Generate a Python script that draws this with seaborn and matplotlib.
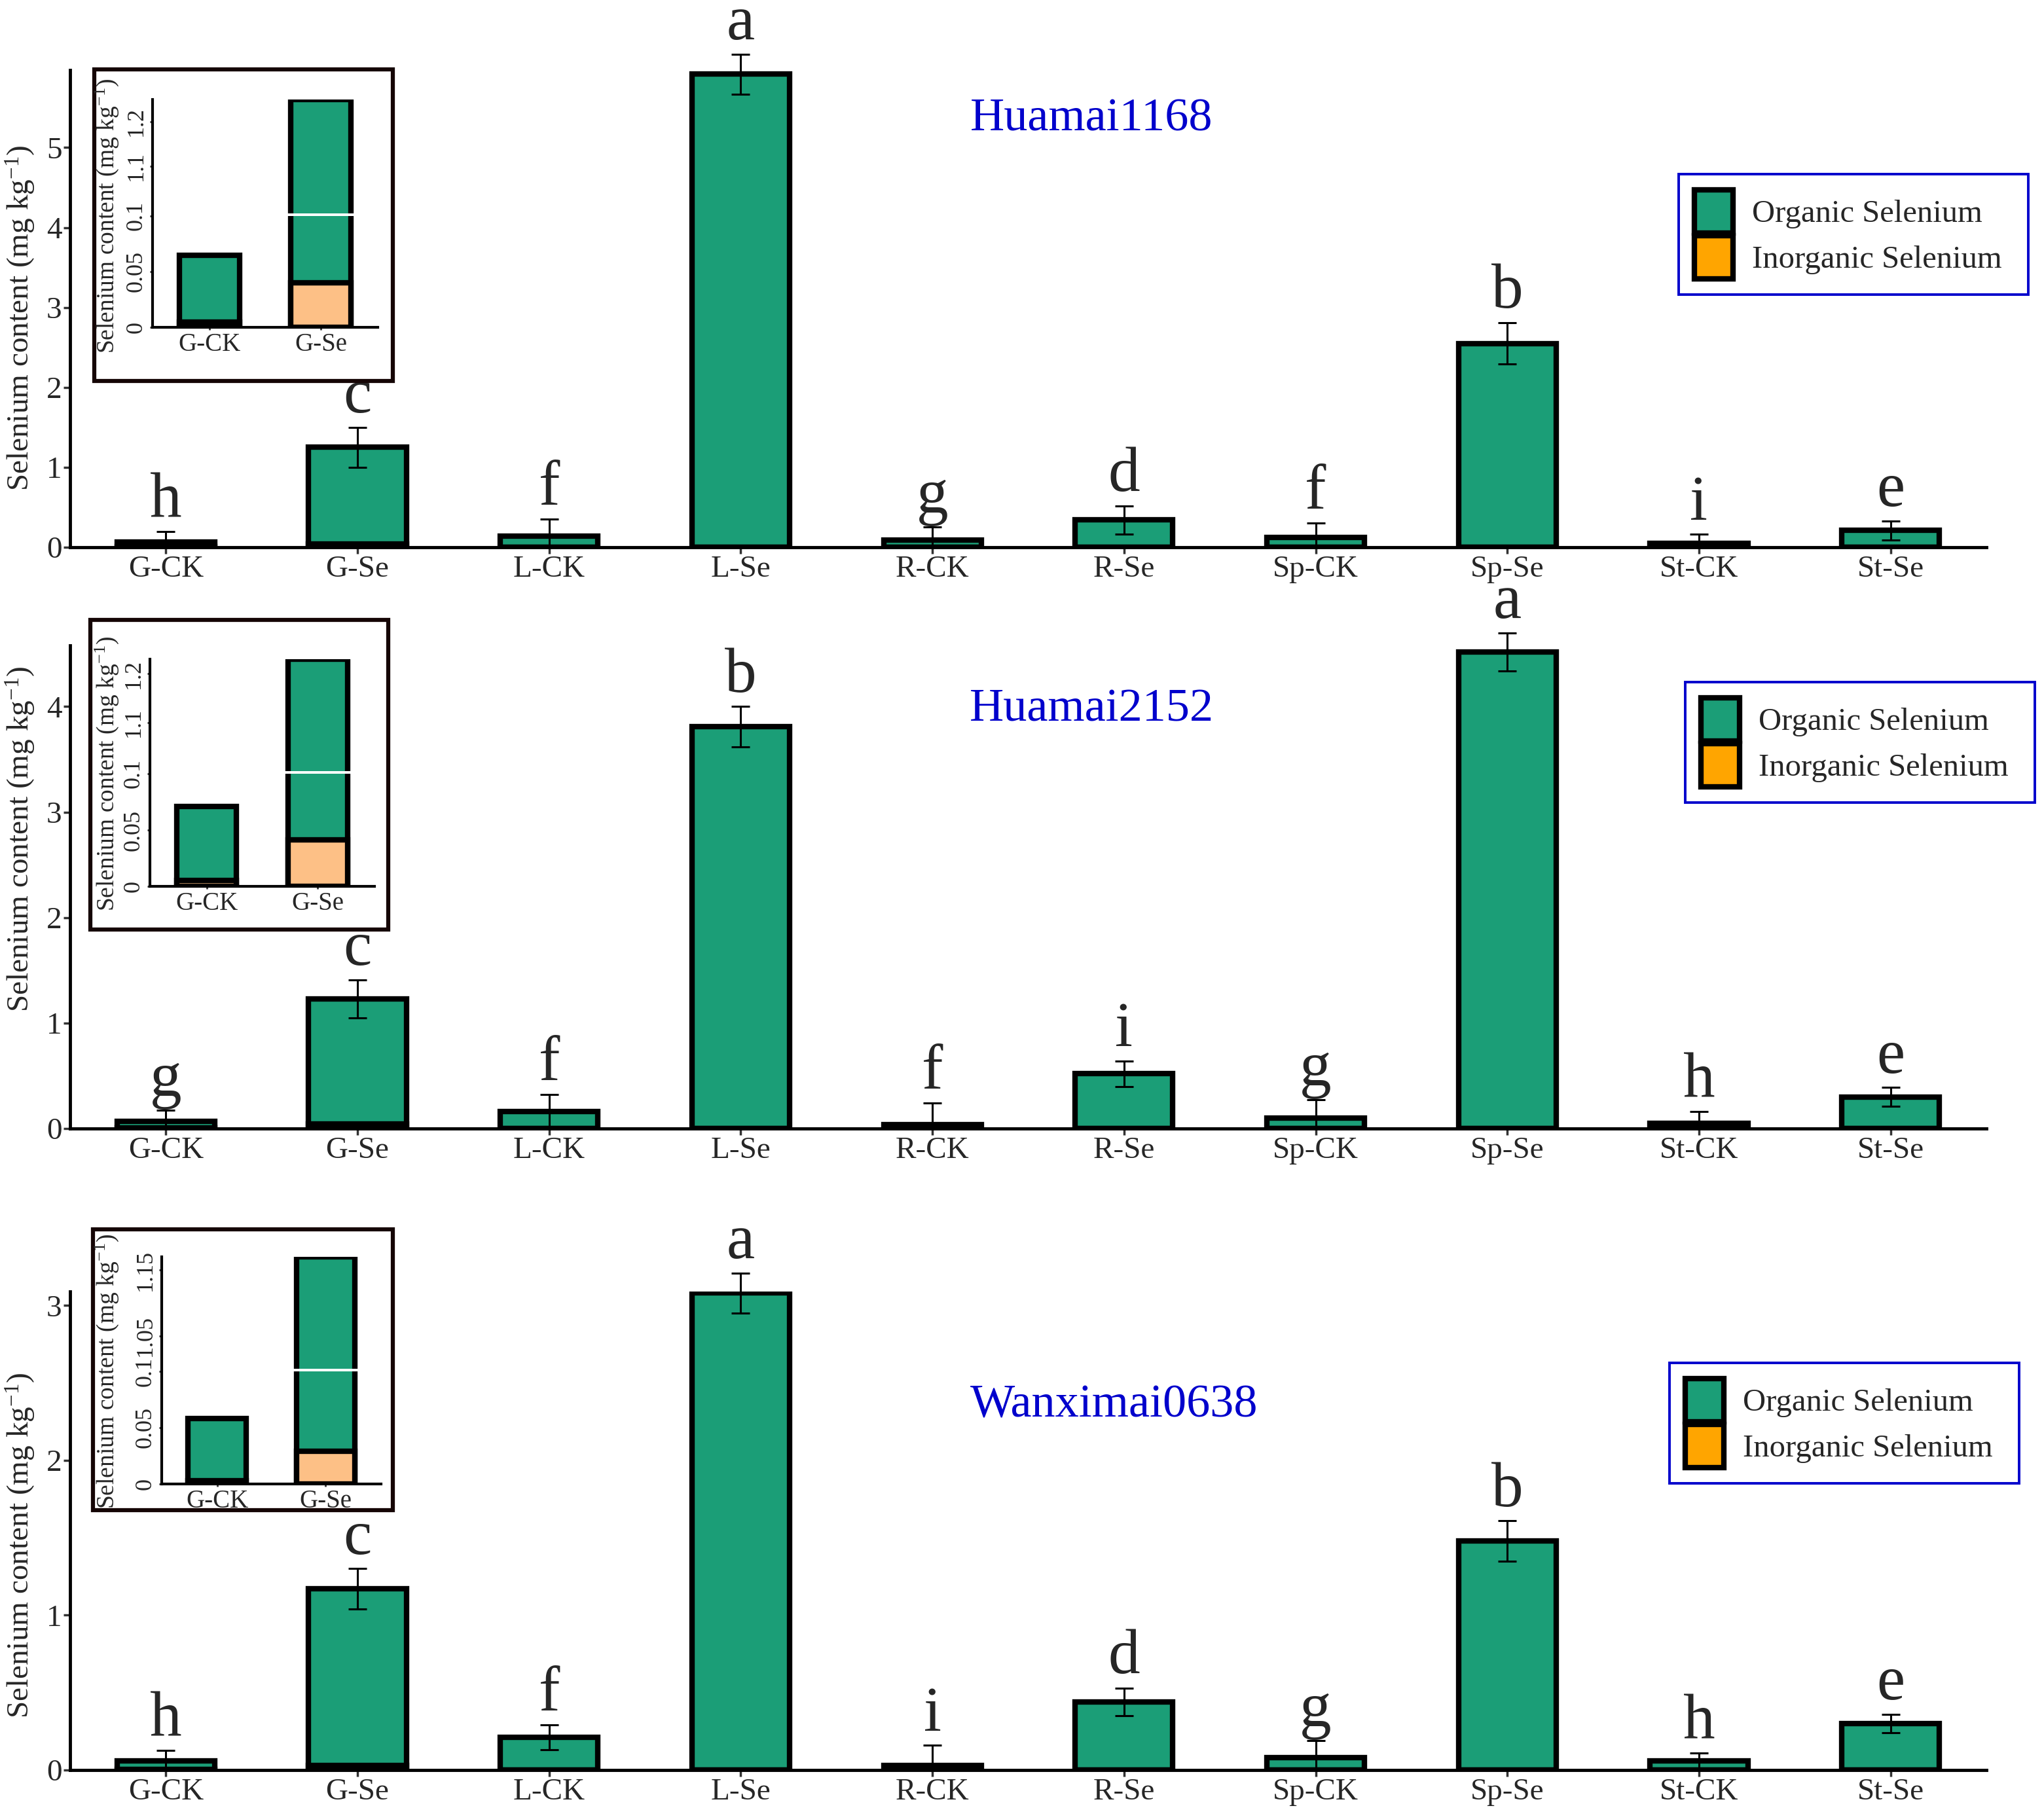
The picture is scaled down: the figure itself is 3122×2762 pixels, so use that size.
import numpy as np
import pandas as pd
import matplotlib
matplotlib.use("Agg")
import matplotlib.pyplot as plt
import seaborn as sns
from matplotlib.patches import Patch, Rectangle

# data
categories = ["G-CK", "G-Se", "L-CK", "L-Se", "R-CK", "R-Se", "Sp-CK", "Sp-Se", "St-CK", "St-Se"]
cultivars = ["Huamai1168", "Huamai2152", "Wanximai0638"]

total_1168 = [0.065, 1.25, 0.14, 5.92, 0.09, 0.34, 0.12, 2.55, 0.05, 0.21]
err_1168 = [0.13, 0.25, 0.21, 0.25, 0.16, 0.18, 0.18, 0.26, 0.11, 0.12]
letters_1168 = ["h", "c", "f", "a", "g", "d", "f", "b", "i", "e"]
inorg_1168 = [0.005, 0.040]

total_2152 = [0.071, 1.23, 0.16, 3.81, 0.04, 0.52, 0.10, 4.52, 0.05, 0.30]
err_2152 = [0.10, 0.18, 0.16, 0.19, 0.20, 0.12, 0.17, 0.18, 0.11, 0.09]
letters_2152 = ["g", "c", "f", "b", "f", "i", "g", "a", "h", "e"]
inorg_2152 = [0.005, 0.041]

total_0638 = [0.058, 1.17, 0.21, 3.08, 0.03, 0.44, 0.08, 1.48, 0.06, 0.30]
err_0638 = [0.07, 0.13, 0.08, 0.13, 0.13, 0.09, 0.11, 0.13, 0.05, 0.06]
letters_0638 = ["h", "c", "f", "a", "i", "d", "g", "b", "h", "e"]
inorg_0638 = [0.003, 0.029]

inset_cats = ["G-CK", "G-Se"]
inset_lo_ticks = [0, 0.05, 0.1]
inset_lo_labels = ["0", "0.05", "0.1"]
inset_hi_ticks_a = [1.1, 1.2]
inset_hi_labels_a = ["1.1", "1.2"]
inset_hi_ticks_b = [1.05, 1.15]
inset_hi_labels_b = ["1.05", "1.15"]

GREEN = "#1b9e77"
ORANGE = "#ffa500"
PEACH = "#fdc086"
BLUE = "#0000cc"

sns.set_style("ticks")
plt.rcParams['font.family'] = ['Liberation Serif', 'DejaVu Serif']
plt.rcParams['mathtext.default'] = 'regular'

W, H = 3122, 2762
fig = plt.figure(figsize=(W / 100, H / 100), dpi=100)

ylab = "Selenium content (mg kg$^{-1}$)"


def fx(px):
    return px / W


def fy(py):
    return 1 - py / H


def main_panel(top_px, bot_px, total, err, letters, inorg, ymax, yticks, label_y):
    ax = fig.add_axes([fx(107), fy(bot_px), fx(3034 - 107), (bot_px - top_px) / H])
    inorg_full = np.zeros(len(categories))
    inorg_full[:2] = inorg
    df = pd.DataFrame({"tissue": categories, "total": total, "inorganic": inorg_full})
    sns.barplot(data=df, x="tissue", y="total", color=GREEN, saturation=1, width=0.51,
                edgecolor="black", linewidth=6, errorbar=None, ax=ax)
    sns.barplot(data=df, x="tissue", y="inorganic", color=ORANGE, saturation=1, width=0.51,
                edgecolor="black", linewidth=6, errorbar=None, ax=ax)
    # lower whisker stops at the axis
    lower = np.minimum(err, total)
    eb = ax.errorbar(np.arange(len(categories)), total, yerr=[lower, err], fmt="none",
                     ecolor="black", elinewidth=2.2, capsize=10, capthick=2.2, zorder=5)
    for art in list(eb[1]) + list(eb[2]):
        art.set_clip_on(False)
    for i, (t, e, l) in enumerate(zip(total, err, letters)):
        ax.annotate(l, xy=(i, t + e), xytext=(0, 1), textcoords="offset points",
                    ha="center", va="bottom", fontsize=70, annotation_clip=False)
    ax.set_xlim(-0.5, 9.5)
    ax.set_ylim(0, ymax)
    ax.set_yticks(yticks)
    ax.set_xlabel("")
    ax.set_ylabel(ylab, fontsize=34)
    ax.yaxis.set_label_coords(-0.017, label_y)
    ax.tick_params(labelsize=34, width=2.5, length=7, pad=2, color="#333333")
    sns.despine(ax=ax)
    for s in ["left", "bottom"]:
        ax.spines[s].set_linewidth(3.5)
        ax.spines[s].set_color("black")
    return ax


def legend_box(ax, x_px, y_px, w_px=534):
    handles = [Patch(facecolor=GREEN, edgecolor="black", linewidth=6, label="Organic Selenium"),
               Patch(facecolor=ORANGE, edgecolor="black", linewidth=6, label="Inorganic Selenium")]
    leg = ax.legend(handles=handles, loc="upper left",
                    bbox_to_anchor=(fx(x_px), fy(y_px), w_px / W, 0), mode="expand",
                    bbox_transform=fig.transFigure, fontsize=35, frameon=True, fancybox=False,
                    edgecolor=BLUE, framealpha=1, borderpad=0.5, handlelength=1.2,
                    handleheight=1.71, handletextpad=0.6, labelspacing=0.08, borderaxespad=0)
    leg.get_frame().set_linewidth(2.8)


def inset(frame, left, right, bot, brk, top, total, inorg, hi_lim, hi_ticks, hi_labels):
    fl, fr, ft, fb = frame
    rect = Rectangle((fx(fl), fy(fb)), (fr - fl) / W, (fb - ft) / H, transform=fig.transFigure,
                     facecolor="white", edgecolor="#150505", linewidth=4.5, zorder=1)
    fig.patches.append(rect)
    gap = 2
    ax_lo = fig.add_axes([fx(left), fy(bot), (right - left) / W, (bot - brk - gap) / H])
    ax_hi = fig.add_axes([fx(left), fy(brk - gap), (right - left) / W, (brk - gap - top) / H])
    df = pd.DataFrame({"tissue": inset_cats, "total": total, "inorganic": inorg})
    for a in (ax_lo, ax_hi):
        a.set_zorder(2)
        a.patch.set_alpha(0)
        sns.barplot(data=df, x="tissue", y="total", color=GREEN, saturation=1, width=0.54,
                    edgecolor="black", linewidth=6, errorbar=None, ax=a)
        sns.barplot(data=df, x="tissue", y="inorganic", color=PEACH, saturation=1, width=0.54,
                    edgecolor="black", linewidth=6, errorbar=None, ax=a)
        a.set_xlim(-0.51, 1.51)
        a.set_xlabel("")
        a.set_ylabel("")
        a.tick_params(axis="y", labelsize=26, labelrotation=90, width=2, length=3, pad=3,
                      color="#333333")
        a.tick_params(axis="x", labelsize=28, width=2, length=3, pad=3, color="#333333")
        for s in ["left", "bottom"]:
            a.spines[s].set_linewidth(3)
            a.spines[s].set_color("black")
    ax_lo.set_ylim(0, 0.1)
    ax_lo.set_yticks(inset_lo_ticks)
    ax_lo.set_yticklabels(inset_lo_labels, va="center")
    sns.despine(ax=ax_lo)
    ax_hi.set_ylim(*hi_lim)
    ax_hi.set_yticks(hi_ticks)
    ax_hi.set_yticklabels(hi_labels, va="center")
    ax_hi.set_xticks([])
    sns.despine(ax=ax_hi, bottom=True)
    ax_lo.set_ylabel(ylab, fontsize=27)
    ax_lo.yaxis.set_label_coords(-(left - 184) / (right - left), 1.0)


ax1 = main_panel(107, 836, total_1168, err_1168, letters_1168, inorg_1168, 5.97, [0, 1, 2, 3, 4, 5], 0.48)
ax2 = main_panel(986, 1724, total_2152, err_2152, letters_2152, inorg_2152, 4.58, [0, 1, 2, 3, 4], 0.60)
ax3 = main_panel(1973, 2704, total_0638, err_0638, letters_0638, inorg_0638, 3.09, [0, 1, 2, 3], 0.47)

legend_box(ax1, 2564, 266)
legend_box(ax2, 2574, 1042)
legend_box(ax3, 2550, 2082)

inset((144, 600, 106, 582), 233, 577, 500, 328, 152, total_1168[:2], inorg_1168,
      (0.993, 1.25), inset_hi_ticks_a, inset_hi_labels_a)
inset((138, 593, 947, 1420), 229, 572, 1354, 1180, 1007, total_2152[:2], inorg_2152,
      (1.0, 1.23), inset_hi_ticks_a, inset_hi_labels_a)
inset((142, 600, 1878, 2307), 247, 582, 2267, 2093, 1920, total_0638[:2], inorg_0638,
      (1.0, 1.17), inset_hi_ticks_b, inset_hi_labels_b)

fig.text(0.534, fy(200), cultivars[0], color=BLUE, fontsize=52, ha="center", va="baseline")
fig.text(0.534, fy(1102), cultivars[1], color=BLUE, fontsize=52, ha="center", va="baseline")
fig.text(0.545, fy(2164), cultivars[2], color=BLUE, fontsize=52, ha="center", va="baseline")

fig.savefig("out.png", dpi=100)
